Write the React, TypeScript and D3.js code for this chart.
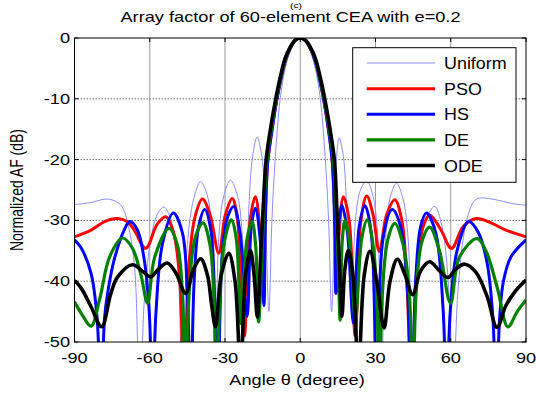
import React from "react";
import * as d3 from "d3";

const W = 536;
const H = 393;
const plot = { left: 74.5, right: 526, top: 38, bottom: 342 };

const xTicks = [-90, -60, -30, 0, 30, 60, 90];
const yTicks = [0, -10, -20, -30, -40, -50];

type Pt = [number, number];

// [angle (deg), normalized AF (dB)]
const uniform: Pt[] = [
  [-90, -27.4], [-84, -27.1], [-76.5, -26.5], [-71.5, -27.5], [-68.5, -31], [-66, -38], [-64, -60],
  [-62, -42], [-59.5, -33], [-57, -29], [-54.3, -27.8], [-51.5, -30], [-49, -36], [-47, -60],
  [-45, -34], [-42.5, -26.5], [-39.7, -23.6], [-37, -26], [-35, -33], [-33.8, -55], [-32.5, -33],
  [-30.5, -26], [-27.8, -23.4], [-25, -26], [-23, -33], [-21.8, -45], [-20.5, -28], [-19, -19.5],
  [-17.2, -16.3], [-15.3, -19.5], [-14, -28], [-12.5, -45], [-11.3, -30], [-10, -20], [-8, -10],
  [-6, -5], [-4, -2.2], [-2, -0.5], [0, 0], [2, -0.5], [4, -2.2], [6, -5], [8, -10], [10, -20],
  [11.3, -30], [12.5, -45], [13.8, -28], [14.5, -19.5], [15.5, -16.4], [17.2, -19.5], [18.5, -28],
  [20.5, -45], [22, -30], [24, -25], [26.5, -23.5], [29, -26], [31, -33], [32.5, -55], [34, -33],
  [36, -26], [38.4, -23.9], [41, -26.5], [43, -33], [45, -60], [47, -36], [50, -30], [53.6, -27.7],
  [56.5, -31], [59, -40], [60.8, -60], [62.8, -42], [65, -33], [67, -29], [70.2, -26.5],
  [78, -26.6], [84, -27.2], [90, -27.5],
];

const pso: Pt[] = [
  [-90, -32.7], [-83.4, -31.6], [-78, -30.2], [-72.8, -29.7], [-69, -30.2], [-66.2, -31.6],
  [-61.6, -34.6], [-57, -30.6], [-53.6, -29.4], [-50.5, -32], [-48, -40], [-46.4, -60], [-44.5, -38],
  [-42, -29.5], [-39, -26.5], [-36, -29], [-32.5, -35.4], [-29.8, -29], [-27.1, -26.4], [-25, -30],
  [-22.3, -49], [-20, -30], [-17.9, -26.1], [-16, -32], [-14.6, -43], [-14, -30], [-13, -20.5],
  [-11.5, -15.8], [-9.5, -10.5], [-8, -7.3], [-6, -3.8], [-4, -1.7], [-2, -0.4], [0, 0], [2, -0.4],
  [4, -1.7], [6, -3.8], [8, -7.3], [9.5, -10.5], [11.5, -15.8], [12.8, -20.5], [13.8, -30],
  [14.4, -42], [15.5, -32], [17.2, -26.1], [19.5, -30], [21.9, -49], [24.2, -30], [26.5, -26],
  [29, -29], [31.5, -35.1], [34.5, -29], [37.7, -26.6], [40.5, -30], [42.5, -40], [44.4, -60],
  [46.5, -38], [49, -31], [51.6, -29.1], [56, -31.5], [60.3, -34.6], [65, -31], [70.2, -29.7],
  [76, -30.4], [82, -31.6], [90, -32.7],
];

const hs: Pt[] = [
  [-90, -33.2], [-87.4, -34.5], [-83.4, -38.7], [-81, -46], [-79.5, -60], [-78, -46], [-76.8, -42],
  [-74.2, -36.5], [-70.2, -31.6], [-68, -30.2], [-65, -31.5], [-62, -37], [-60.2, -45], [-58.9, -60],
  [-57.5, -45], [-55, -34], [-50.6, -28.8], [-47, -32], [-45, -42], [-43.7, -60], [-42.3, -40],
  [-40.5, -31], [-38.1, -28.2], [-35.5, -32], [-33.1, -60], [-31, -35], [-29, -29.5], [-26.5, -27.7],
  [-24, -32], [-21.2, -45.8], [-19.5, -31], [-17.9, -28], [-16, -33], [-14.5, -44], [-14, -32],
  [-13, -20.5], [-11.5, -15.8], [-9.5, -10.5], [-8, -7.3], [-6, -3.8], [-4, -1.7], [-2, -0.4],
  [0, 0], [2, -0.4], [4, -1.7], [6, -3.8], [8, -7.3], [9.5, -10.5], [11.5, -15.8], [12.8, -20.5],
  [13.8, -32], [14.2, -42], [15.3, -31], [16.6, -27.5], [18.8, -32], [21.2, -46.9], [23.5, -31],
  [25.8, -27.6], [28.3, -32], [30.5, -60], [33, -33], [36.7, -28.2], [40, -31], [42.8, -42],
  [44.4, -60], [46, -40], [48, -31], [50.3, -28.8], [54, -32], [57, -45], [58.3, -60], [59.8, -45],
  [62.5, -35], [67.1, -30.2], [71, -32], [74.5, -37], [76.8, -46], [78.1, -60], [79.5, -46],
  [81, -40], [84, -36], [90, -33.2],
];

const de: Pt[] = [
  [-90, -43.4], [-87, -45.5], [-83.4, -47.4], [-80, -43], [-76, -36], [-70.9, -32.9], [-67, -34.5],
  [-63.5, -39], [-60.9, -43.6], [-58, -36], [-52.3, -31.3], [-49, -34], [-47, -42], [-45.7, -60],
  [-44.3, -42], [-42, -33], [-38.8, -30.4], [-36, -34], [-34.5, -42], [-33.3, -60], [-32, -42],
  [-30, -33], [-27.5, -29.9], [-25.5, -33], [-23.6, -47], [-21.2, -33], [-19.2, -30.2],
  [-17.8, -34], [-16.6, -46.7], [-15.5, -38], [-14.5, -28], [-13.2, -20], [-11.7, -15.5],
  [-9.7, -10.5], [-8, -7], [-6, -3.6], [-4, -1.6], [-2, -0.4], [0, 0], [2, -0.4], [4, -1.6],
  [6, -3.6], [8, -7], [9.7, -10.5], [11.7, -15.5], [13.2, -20], [14.3, -28], [15.2, -38],
  [15.9, -46.4], [16.8, -33], [17.9, -29.9], [19.8, -34], [22, -46.4], [24.5, -33], [26.7, -29.9],
  [29, -34], [30.5, -42], [31.5, -60], [32.7, -42], [35, -33], [37.7, -30.5], [41, -34],
  [43.5, -42], [44.8, -60], [46.2, -42], [48.5, -33.5], [51.6, -31.1], [55.5, -35], [59.9, -43.6],
  [63.5, -36], [70.5, -33], [74, -35], [78.5, -41], [82.8, -47.5], [86.5, -45], [90, -43.1],
];

const ode: Pt[] = [
  [-90, -39.9], [-87.4, -41.1], [-83.4, -44.2], [-79.2, -47.5], [-75.5, -42], [-72.8, -39.3],
  [-66.9, -37.3], [-62.5, -38.5], [-59.6, -39.3], [-56.5, -38], [-53, -37], [-49.5, -38.7],
  [-45.7, -42], [-42.5, -38], [-39.7, -36.3], [-37, -39], [-35.3, -44], [-33.8, -47.5],
  [-31.5, -39], [-28.5, -35.4], [-26, -40], [-23.8, -55], [-21.8, -39], [-19.9, -34.9],
  [-18.4, -39], [-17.1, -45.9], [-15.8, -36], [-14.8, -28], [-13.6, -20], [-12, -15.3],
  [-10, -10.5], [-8, -6.5], [-6, -3.3], [-4, -1.5], [-2, -0.3], [0, 0], [2, -0.3], [4, -1.5],
  [6, -3.3], [8, -6.5], [10, -10.5], [12, -15.3], [13.6, -20], [14.6, -28], [15.5, -36],
  [16.6, -45.8], [17.8, -38], [19.2, -34.9], [21, -39], [23.2, -55], [25.5, -39], [27.8, -35.1],
  [30.5, -40], [33.4, -47.7], [35.8, -40], [38.7, -36.4], [41.8, -39], [44.8, -42.2], [48, -38.3],
  [51.6, -36.8], [55.5, -38.3], [58.9, -39.4], [62, -38], [65.6, -37.2], [70, -38.5],
  [74.5, -42.5], [78.4, -47.6], [82, -44], [86, -41.5], [90, -39.8],
];

const seriesNames = ["Uniform", "PSO", "HS", "DE", "ODE"];
const seriesData = [uniform, pso, hs, de, ode];
const seriesColors = ["#8c8cff", "#ff0000", "#0000ff", "#008000", "#000000"];
const seriesWidths = [1, 3, 3, 3.2, 3.6];

const FONT = "'Liberation Sans', Arial, sans-serif";
const SX = 1.3; // the figure is stretched horizontally

function Txt(props: { x: number; y: number; anchor?: string; size?: number; sx?: number; children: React.ReactNode }) {
  const { x, y, anchor = "middle", size = 14, sx = SX, children } = props;
  return (
    <text
      transform={`translate(${x},${y}) scale(${sx},1)`}
      textAnchor={anchor}
      fontSize={size}
      fontFamily={FONT}
      fill="#000"
    >
      {children}
    </text>
  );
}

export default function App() {
  const x = d3.scaleLinear().domain([-90, 90]).range([plot.left, plot.right]);
  const y = d3.scaleLinear().domain([-50, 0]).range([plot.bottom, plot.top]);

  const line = d3
    .line<Pt>()
    .x((d) => x(d[0]))
    .y((d) => y(d[1]))
    .curve(d3.curveCatmullRom.alpha(0.5));

  const pw = plot.right - plot.left;
  const ph = plot.bottom - plot.top;

  const legend = { x0: 352.7, y0: 47.7, x1: 516, y1: 182.3 };
  const legendRows = d3.scaleLinear().domain([0, 4]).range([63, 165.5]);

  return (
    <svg width={W} height={H} style={{ position: "absolute", left: 0, top: 0, background: "#fff" }}>
      <rect x={0} y={0} width={W} height={H} fill="#fff" />
      <defs>
        <clipPath id="plotClip">
          <rect x={plot.left} y={plot.top} width={pw} height={ph} />
        </clipPath>
      </defs>

      {/* grid */}
      {xTicks.slice(1, -1).map((t) => (
        <line key={"gx" + t} x1={x(t)} x2={x(t)} y1={plot.top} y2={plot.bottom} stroke="#9a9a9a" strokeWidth={1} />
      ))}
      {yTicks.slice(1, -1).map((t) => (
        <line
          key={"gy" + t}
          x1={plot.left}
          x2={plot.right}
          y1={y(t)}
          y2={y(t)}
          stroke="#777"
          strokeWidth={1}
          strokeDasharray="1.5,1.5"
        />
      ))}

      {/* curves */}
      <g clipPath="url(#plotClip)">
        {seriesData.map((d, i) => (
          <path
            key={seriesNames[i]}
            d={line(d) || ""}
            fill="none"
            stroke={seriesColors[i]}
            strokeWidth={seriesWidths[i]}
            strokeLinejoin="round"
          />
        ))}
      </g>

      {/* axes box and ticks */}
      <rect x={plot.left} y={plot.top} width={pw} height={ph} fill="none" stroke="#000" strokeWidth={1} />
      {xTicks.map((t) => (
        <g key={"tx" + t}>
          <line x1={x(t)} x2={x(t)} y1={plot.bottom} y2={plot.bottom - 4} stroke="#000" />
          <line x1={x(t)} x2={x(t)} y1={plot.top} y2={plot.top + 4} stroke="#000" />
          <Txt x={x(t)} y={362.5} size={14}>
            {String(t)}
          </Txt>
        </g>
      ))}
      {yTicks.map((t) => (
        <g key={"ty" + t}>
          <line x1={plot.left} x2={plot.left + 4} y1={y(t)} y2={y(t)} stroke="#000" />
          <line x1={plot.right} x2={plot.right - 4} y1={y(t)} y2={y(t)} stroke="#000" />
          <Txt x={70} y={y(t) + 5} anchor="end" size={14}>
            {String(t)}
          </Txt>
        </g>
      ))}

      {/* legend */}
      <rect
        x={legend.x0}
        y={legend.y0}
        width={legend.x1 - legend.x0}
        height={legend.y1 - legend.y0}
        fill="#fff"
        stroke="#000"
        strokeWidth={1}
      />
      {seriesNames.map((n, i) => (
        <g key={"lg" + n}>
          <line
            x1={366.7}
            x2={435}
            y1={legendRows(i)}
            y2={legendRows(i)}
            stroke={seriesColors[i]}
            strokeWidth={i === 0 ? 1 : seriesWidths[i]}
          />
          <Txt x={444} y={legendRows(i) + 6} anchor="start" size={16} sx={1.12}>
            {n}
          </Txt>
        </g>
      ))}

      {/* titles */}
      <Txt x={296} y={8} size={8}>
        (c)
      </Txt>
      <Txt x={290.5} y={22} size={14}>
        Array factor of 60-element CEA with e=0.2
      </Txt>
      <Txt x={297} y={385} size={14}>
        Angle θ (degree)
      </Txt>
      <text
        transform={`translate(23,${(plot.top + plot.bottom) / 2}) rotate(-90) scale(1,1.3)`}
        textAnchor="middle"
        fontSize={14}
        fontFamily={FONT}
        fill="#000"
      >
        Normalized AF (dB)
      </text>
    </svg>
  );
}
